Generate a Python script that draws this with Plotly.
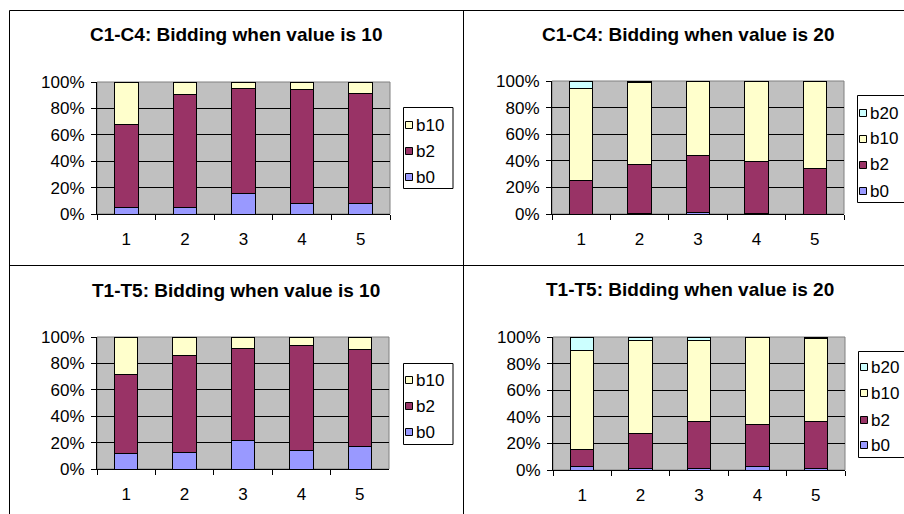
import plotly.graph_objects as go

W, H = 904, 514

categories = ["1", "2", "3", "4", "5"]

# C1-C4, value 10 (percent of bids)
c10_b0 = [5.1, 5.1, 15.5, 8.1, 8.1]
c10_b2 = [62.4, 85.8, 79.7, 86.3, 83.3]
c10_b10 = [32.5, 9.1, 4.8, 5.6, 8.6]

# C1-C4, value 20
c20_b0 = [0.0, 0.7, 1.5, 0.7, 0.0]
c20_b2 = [24.9, 36.2, 42.7, 38.5, 33.9]
c20_b10 = [69.6, 62.1, 55.8, 60.8, 66.1]
c20_b20 = [5.5, 1.0, 0.0, 0.0, 0.0]

# T1-T5, value 10
t10_b0 = [11.7, 12.7, 21.8, 14.2, 17.3]
t10_b2 = [59.6, 73.3, 69.8, 79.2, 73.3]
t10_b10 = [28.7, 14.0, 8.4, 6.6, 9.4]

# T1-T5, value 20
t20_b0 = [2.3, 1.5, 1.5, 3.0, 1.5]
t20_b2 = [13.1, 25.8, 34.9, 31.3, 34.9]
t20_b10 = [74.5, 69.9, 60.8, 65.7, 62.3]
t20_b20 = [10.1, 2.8, 2.8, 0.0, 1.3]

y_ticks = [0, 20, 40, 60, 80, 100]
y_tick_text = ["0%", "20%", "40%", "60%", "80%", "100%"]

COLORS = {"b0": "#9999FF", "b2": "#993366", "b10": "#FFFFCC", "b20": "#CCFFFF"}
FONT = "Liberation Sans, Arial, sans-serif"


def px(x):
    return x / W


def py(y):
    return 1 - y / H


panels = [
    dict(title="C1-C4: Bidding when value is 10",
         series=[("b0", c10_b0), ("b2", c10_b2), ("b10", c10_b10)],
         plot=(97, 390, 82, 214), title_xy=(236, 35),
         legend_box=(403, 453, 107, 188), legend_rows=[125, 151, 177]),
    dict(title="C1-C4: Bidding when value is 20",
         series=[("b0", c20_b0), ("b2", c20_b2), ("b10", c20_b10), ("b20", c20_b20)],
         plot=(552, 844, 81, 214), title_xy=(688, 35),
         legend_box=(857, 915, 95, 202), legend_rows=[113, 139, 165, 191]),
    dict(title="T1-T5: Bidding when value is 10",
         series=[("b0", t10_b0), ("b2", t10_b2), ("b10", t10_b10)],
         plot=(97, 389, 337, 469), title_xy=(236, 290),
         legend_box=(403, 453, 363, 444), legend_rows=[380, 406, 432]),
    dict(title="T1-T5: Bidding when value is 20",
         series=[("b0", t20_b0), ("b2", t20_b2), ("b10", t20_b10), ("b20", t20_b20)],
         plot=(553, 845, 337, 470), title_xy=(690, 289),
         legend_box=(858, 915, 351, 457), legend_rows=[367, 393, 420, 445]),
]

fig = go.Figure()
shapes = []
annotations = []

for i, p in enumerate(panels, start=1):
    sfx = "" if i == 1 else str(i)
    xa, ya = "x" + sfx, "y" + sfx
    for name, vals in p["series"]:
        fig.add_trace(go.Bar(
            x=categories, y=vals, name=name, xaxis=xa, yaxis=ya,
            width=0.4, showlegend=False,
            marker=dict(color=COLORS[name], line=dict(color="black", width=1)),
        ))

    x0, x1, y0, y1 = p["plot"]
    fig.layout["xaxis" + sfx] = dict(
        domain=[px(x0), px(x1)], anchor=ya, type="category", automargin=False,
        tickson="boundaries", ticks="outside", ticklen=5, tickcolor="black",
        showline=True, linecolor="black", linewidth=1, showgrid=False,
        tickfont=dict(family=FONT, size=17, color="black"),
        ticklabelstandoff=10, fixedrange=True,
    )
    fig.layout["yaxis" + sfx] = dict(
        domain=[py(y1), py(y0)], anchor=xa, range=[0, 100], automargin=False,
        tickvals=y_ticks, ticktext=y_tick_text,
        ticks="outside", ticklen=5, tickcolor="black",
        showline=True, linecolor="black", linewidth=1,
        showgrid=True, gridcolor="black", gridwidth=1, zeroline=False,
        tickfont=dict(family=FONT, size=17, color="black"),
        ticklabelstandoff=3, fixedrange=True,
    )
    # grey plot-area frame
    shapes.append(dict(type="rect", xref="paper", yref="paper",
                       x0=px(x0), x1=px(x1), y0=py(y1), y1=py(y0), layer="below",
                       line=dict(color="#808080", width=1)))

    tx, ty = p["title_xy"]
    annotations.append(dict(text=p["title"], x=px(tx), y=py(ty), xref="paper", yref="paper",
                            xanchor="center", yanchor="middle", showarrow=False,
                            font=dict(family=FONT, size=19, color="black", weight="bold")))

    # legend box with swatches
    lx0, lx1, ly0, ly1 = p["legend_box"]
    shapes.append(dict(type="rect", xref="paper", yref="paper",
                       x0=px(lx0 + 0.5), x1=px(lx1), y0=py(ly1 + 0.5), y1=py(ly0 + 0.5),
                       fillcolor="white", line=dict(color="black", width=1)))
    names = [n for n, _ in p["series"]][::-1]
    for name, ry in zip(names, p["legend_rows"]):
        sx = lx0 + 2
        shapes.append(dict(type="rect", xref="paper", yref="paper",
                           x0=px(sx + 0.5), x1=px(sx + 7.5), y0=py(ry + 3.5), y1=py(ry - 3.5),
                           fillcolor=COLORS[name], line=dict(color="black", width=1)))
        annotations.append(dict(text=name, x=px(sx + 9), y=py(ry), xref="paper", yref="paper",
                                xanchor="left", yanchor="middle", showarrow=False,
                                font=dict(family=FONT, size=17, color="black")))

# outer frame and cell dividers
for (a, b, c, d) in [(9.5, 904, 10.5, 10.5), (9.5, 9.5, 10.5, 514),
                     (463.5, 463.5, 10.5, 514), (9.5, 904, 265.5, 265.5)]:
    shapes.append(dict(type="line", xref="paper", yref="paper",
                       x0=px(a), x1=px(b), y0=py(c), y1=py(d),
                       line=dict(color="black", width=1)))

fig.update_layout(
    width=W, height=H, margin=dict(l=0, r=0, t=0, b=0, autoexpand=False),
    paper_bgcolor="white", plot_bgcolor="#C0C0C0",
    barmode="stack", bargap=0.6, showlegend=False,
    shapes=shapes, annotations=annotations,
    font=dict(family=FONT, color="black"),
)

fig.write_html("out.html")
